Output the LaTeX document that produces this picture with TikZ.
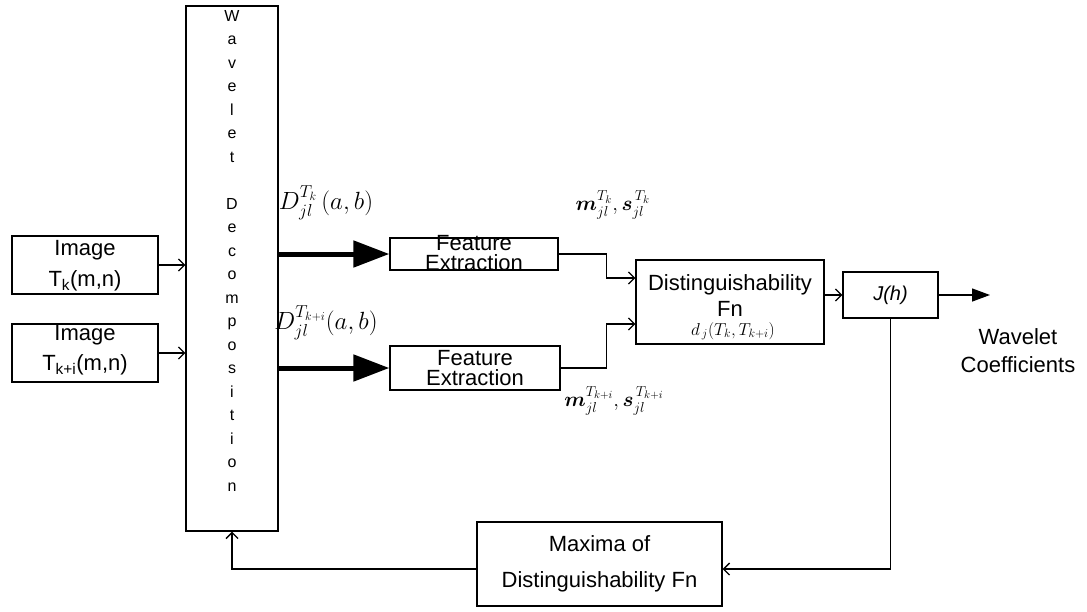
\documentclass[tikz,border=0pt]{standalone}
\usepackage{fontspec}
\setmainfont{Liberation Sans}
\usepackage{amsmath,bm}
\usetikzlibrary{arrows.meta,positioning,calc}

\tikzset{
  blk/.style={draw, rectangle, line width=1.3pt, inner sep=0pt},
  txt/.style={align=center, inner sep=0pt, font=\fontsize{22}{#1}\selectfont},
  col/.style={inner sep=0pt, anchor=base, font=\fontsize{16}{16}\selectfont},
  lbl/.style={inner sep=0pt, font=\fontsize{#1}{#1}\selectfont},
  arr/.style={line width=1.3pt, -{Straight Barb[length=6pt,width=12pt]}},
  fat/.style={line width=5pt, -{Triangle[length=36pt,width=26pt]}},
  outarr/.style={line width=1.3pt, -{Triangle[length=18pt,width=13pt]}},
}

\begin{document}
\begin{tikzpicture}[x=1pt, y=-1pt]
    \useasboundingbox (0,0) rectangle (1087,611);

    % blocks
    \node[blk, minimum width=146pt, minimum height=58pt] (imgA) at (85,265) {};
    \node[blk, minimum width=146pt, minimum height=58pt] (imgB) at (85,353) {};
    \node[blk, minimum width=92pt, minimum height=525pt] (wd) at (232,268.5) {};
    \node[blk, minimum width=168pt, minimum height=32pt] (feA) at (474,254) {};
    \node[blk, minimum width=170pt, minimum height=44pt] (feB) at (475,368) {};
    \node[blk, minimum width=188pt, minimum height=84pt] (dist) at (730,302) {};
    \node[blk, minimum width=95pt, minimum height=46pt] (jh) at (890.5,295) {};
    \node[blk, minimum width=245pt, minimum height=84pt] (maxd) at (599.5,564) {};
    \coordinate (wcend) at (990,295);

    % texts
    \node[txt=31] (imgAt) at (85,266) {Image\\T\textsubscript{k}(m,n)};
    \node[txt=30] (imgBt) at (85,350) {Image\\T\textsubscript{k+i}(m,n)};
    \foreach \ch [count=\i from 0] in {W,a,v,e,l,e,t,{},D,e,c,o,m,p,o,s,i,t,i,o,n}
        \node[col] (wd\i) at (232,21+23.5*\i) {\ch};
    \node[txt=20] (feAt) at (474,253) {Feature\\Extraction};
    \node[txt=20] (feBt) at (475,368) {Feature\\Extraction};
    \node[txt=26] (distt) at (730,296) {Distinguishability\\Fn};
    \node[lbl=17] (dj) at (733,331) {$d_{\,j}(T_k,T_{k+i})$};
    \node[txt=22, font=\fontsize{20}{22}\selectfont\itshape] (jht) at (890.5,295) {J(h)};
    \node[txt=36] (maxdt) at (599.5,564) {Maxima of\\Distinguishability Fn};
    \node[txt=28] (wc) at (1018,351) {Wavelet\\Coefficients};

    % signal labels
    \node[lbl=24] (dA) at (326,203) {$D_{jl}^{T_k}\,(a,b)$};
    \node[lbl=24] (dB) at (326,323) {$D_{jl}^{T_{k+i}}(a,b)$};
    \node[lbl=22] (msA) at (613,205) {$\bm{m}_{jl}^{T_k},\bm{s}_{jl}^{\,T_k}$};
    \node[lbl=22] (msB) at (614,401) {$\bm{m}_{jl}^{T_{k+i}},\bm{s}_{jl}^{\,T_{k+i}}$};

    % connectors
    \draw[arr] (imgA.east) -- (imgA.east -| wd.west);
    \draw[arr] (imgB.east) -- (imgB.east -| wd.west);
    \draw[fat] (wd.east |- feA.west) -- (feA.west);
    \draw[fat] (wd.east |- feB.west) -- (feB.west);
    \draw[arr] (feA.east) -- ++(48,0) |- ([yshift=24pt]dist.west);
    \draw[arr] (feB.east) -- ++(46,0) |- ([yshift=-22pt]dist.west);
    \draw[arr] (dist.east |- jh.west) -- (jh.west);
    \draw[outarr] (jh.east) -- (wcend);
    \draw[arr] (jh.south) |- ([yshift=-5pt]maxd.east);
    \draw[arr] ([yshift=-5pt]maxd.west) -| (wd.south);
\end{tikzpicture}
\end{document}
